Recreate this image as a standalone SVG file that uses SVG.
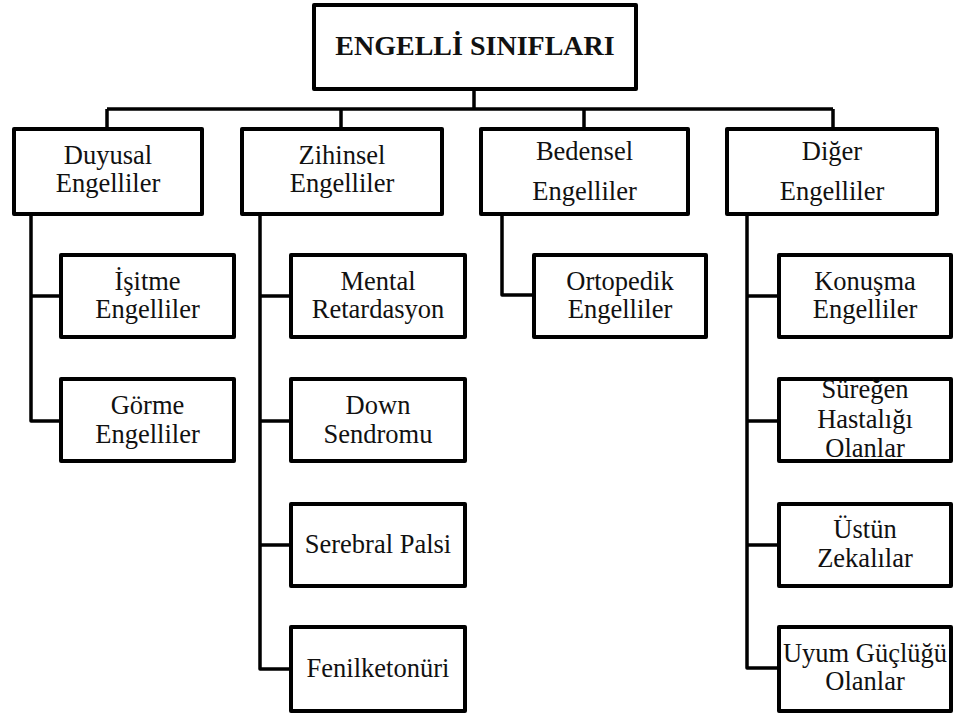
<svg xmlns="http://www.w3.org/2000/svg" width="954" height="719" viewBox="0 0 954 719">
<style>
.box{fill:#fff;stroke:#000;stroke-width:4;stroke-linejoin:round}
.c{fill:none;stroke:#000;stroke-width:3.5;stroke-linejoin:round}
text{font-family:"Liberation Serif","Times New Roman",serif;font-size:26.5px;fill:#111;text-anchor:middle}
.t{font-weight:bold;font-size:28px}
</style>
<rect width="954" height="719" fill="#fff"/>
<g id="connectors">
<path class="c" d="M474,91V109M107,109H833M107,109V127M341,109V127M584,109V127M833,109V127"/>
<path class="c" d="M31,216V421H59M31,296H59"/>
<path class="c" d="M260,216V669H289M260,296H289M260,421H289M260,545H289"/>
<path class="c" d="M502,216V295H532"/>
<path class="c" d="M747,216V668H777M747,296H777M747,421H777M747,545H777"/>
</g>
<g id="root"><rect class="box" x="314" y="5" width="322" height="84"/><text class="t" x="475" y="55">ENGELLİ SINIFLARI</text></g>
<g id="duyusal"><rect class="box" x="14" y="129" width="188" height="85"/><text x="108" y="164">Duyusal</text><text x="108" y="192">Engelliler</text></g>
<g id="zihinsel"><rect class="box" x="242" y="129" width="200" height="85"/><text x="342" y="164">Zihinsel</text><text x="342" y="192">Engelliler</text></g>
<g id="bedensel"><rect class="box" x="481" y="129" width="207" height="85"/><text x="584.5" y="160">Bedensel</text><text x="584.5" y="200">Engelliler</text></g>
<g id="diger"><rect class="box" x="727" y="129" width="210" height="85"/><text x="832" y="160">Diğer</text><text x="832" y="200">Engelliler</text></g>
<g id="isitme"><rect class="box" x="61" y="255" width="173" height="82"/><text x="147.5" y="290">İşitme</text><text x="147.5" y="318">Engelliler</text></g>
<g id="gorme"><rect class="box" x="61" y="379" width="173" height="82"/><text x="147.5" y="414">Görme</text><text x="147.5" y="443">Engelliler</text></g>
<g id="mental"><rect class="box" x="291" y="255" width="174" height="82"/><text x="378" y="290">Mental</text><text x="378" y="318">Retardasyon</text></g>
<g id="down"><rect class="box" x="291" y="379" width="174" height="82"/><text x="378" y="414">Down</text><text x="378" y="443">Sendromu</text></g>
<g id="serebral"><rect class="box" x="291" y="504" width="174" height="82"/><text x="378" y="553">Serebral Palsi</text></g>
<g id="fenil"><rect class="box" x="291" y="627" width="174" height="84"/><text x="378" y="677">Fenilketonüri</text></g>
<g id="ortopedik"><rect class="box" x="534" y="255" width="172" height="82"/><text x="620" y="290">Ortopedik</text><text x="620" y="318">Engelliler</text></g>
<g id="konusma"><rect class="box" x="779" y="255" width="172" height="82"/><text x="865" y="290">Konuşma</text><text x="865" y="318">Engelliler</text></g>
<g id="suregen"><rect class="box" x="779" y="379" width="172" height="82"/><text x="865" y="398">Süreğen</text><text x="865" y="428">Hastalığı</text><text x="865" y="457">Olanlar</text></g>
<g id="ustun"><rect class="box" x="779" y="504" width="172" height="82"/><text x="865" y="538">Üstün</text><text x="865" y="567">Zekalılar</text></g>
<g id="uyum"><rect class="box" x="779" y="627" width="172" height="84"/><text x="865" y="662">Uyum Güçlüğü</text><text x="865" y="690">Olanlar</text></g>
</svg>
